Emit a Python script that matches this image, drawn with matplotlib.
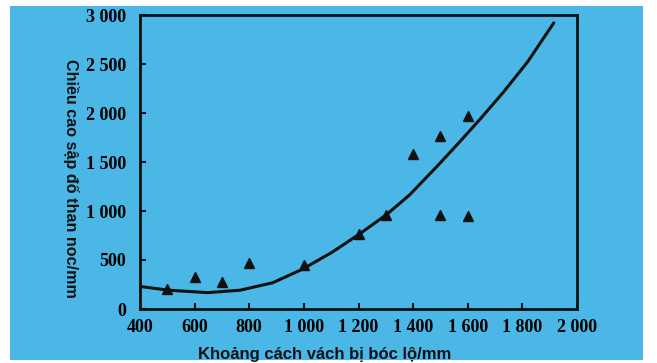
import matplotlib
matplotlib.use("Agg")
import matplotlib.pyplot as plt

# ---- data ----
pts_x = [500, 600, 700, 800, 1000, 1200, 1300, 1400, 1500, 1600, 1500, 1600]
pts_y = [200, 330, 280, 470, 450, 770, 960, 1580, 1770, 1970, 960, 950]

curve_x = [400, 504, 648, 767, 886, 994, 1102, 1203, 1304, 1387, 1488, 1567, 1647, 1730, 1820, 1915]
curve_y = [230, 192, 167, 192, 268, 405, 577, 764, 966, 1164, 1457, 1695, 1943, 2211, 2525, 2920]

x_ticks = [400, 600, 800, 1000, 1200, 1400, 1600, 1800, 2000]
x_labels = ["400", "600", "800", "1 000", "1 200", "1 400", "1 600", "1 800", "2 000"]
y_ticks = [0, 500, 1000, 1500, 2000, 2500, 3000]
y_labels = ["0", "500", "1 000", "1 500", "2 000", "2 500", "3 000"]

x_title = "Khoảng cách vách bị bóc lộ/mm"
y_title = "Chiều cao sập đố than noc/mm"

W, H = 657, 363
BLUE = "#4AB7E7"

fig = plt.figure(figsize=(W / 100, H / 100), dpi=100)
fig.patch.set_facecolor("white")

# blue paper background
bg = fig.add_axes([10 / W, 1 - 360 / H, 633 / W, 354 / H], zorder=0)
bg.set_facecolor(BLUE)
bg.set_xticks([])
bg.set_yticks([])
for s in bg.spines.values():
    s.set_visible(False)

ax_l, ax_r, ax_t, ax_b = 140, 577, 15, 309
ax = fig.add_axes([ax_l / W, 1 - ax_b / H, (ax_r - ax_l) / W, (ax_b - ax_t) / H], zorder=1)
ax.set_facecolor("none")

ax.plot(curve_x, curve_y, color="#111111", lw=2.2, solid_capstyle="round",
        solid_joinstyle="round", clip_on=True, zorder=3)
ax.plot(pts_x, pts_y, linestyle="none", marker="^", color="#111111",
        markersize=7, zorder=4)

ax.set_xlim(400, 2000)
ax.set_ylim(0, 3000)

for s in ax.spines.values():
    s.set_linewidth(2.0)
    s.set_color("#111111")

tick_font = dict(family="Liberation Serif", weight="bold", size=13)
ax.set_xticks(x_ticks)
ax.set_xticklabels(x_labels, **tick_font)
ax.set_yticks(y_ticks)
ax.set_yticklabels(y_labels, **tick_font)
ax.tick_params(axis="both", direction="in", length=4, width=1.5, color="#111111")
ax.tick_params(axis="x", pad=7)
ax.tick_params(axis="y", pad=10)

ax.set_xlabel(x_title, family="Liberation Sans", weight="bold", size=12, color="#111111")
ax.xaxis.set_label_coords((325 - ax_l) / (ax_r - ax_l), -(354 - ax_b) / (ax_b - ax_t))
ax.set_ylabel(y_title, rotation=270, family="Liberation Sans", weight="bold", size=11.6,
              color="#111111")
ax.yaxis.set_label_coords(-(ax_l - 71) / (ax_r - ax_l), (ax_b - 178) / (ax_b - ax_t))
ax.xaxis.label.set_va("center")
ax.yaxis.label.set_va("center")

fig.savefig("out.png", dpi=100, facecolor=fig.get_facecolor())
